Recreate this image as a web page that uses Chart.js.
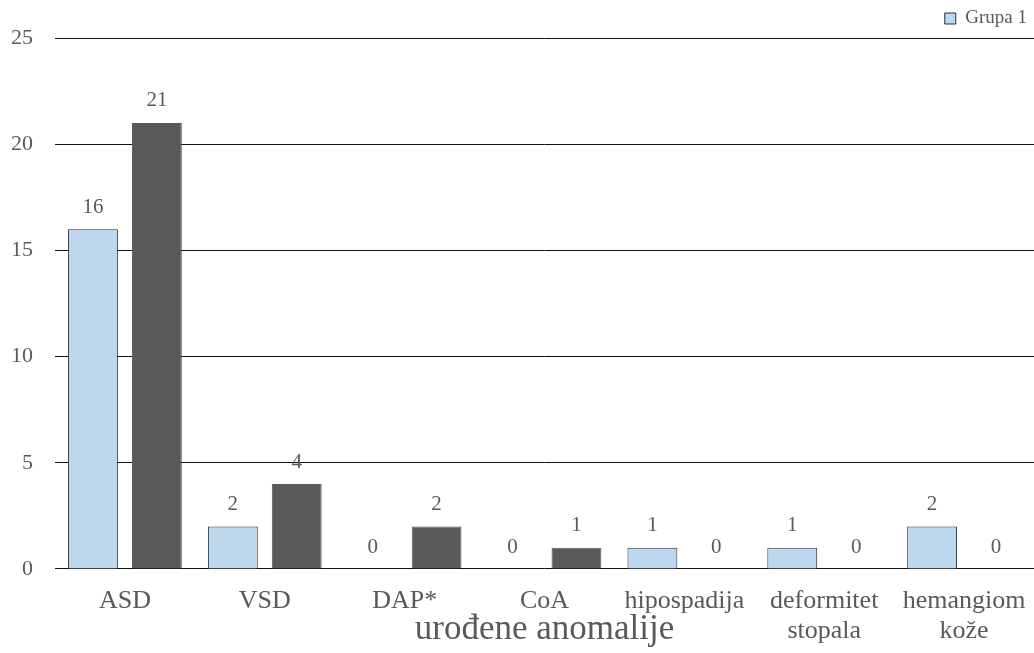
<!DOCTYPE html>
<html>
<head>
<meta charset="utf-8">
<script src="https://cdn.jsdelivr.net/npm/chart.js@4"></script>
<style>
  html, body { margin: 0; padding: 0; background: #fff; }
  #wrap { width: 1034px; height: 653px; }
</style>
</head>
<body>
<div id="wrap"><canvas id="chart"></canvas></div>
<script>
// categories on the x axis
const categories = ['ASD', 'VSD', 'DAP*', 'CoA', 'hipospadija', ['deformitet', 'stopala'], ['hemangiom', 'kože']];
// values per group
const grupa1 = [16, 2, 0, 0, 1, 1, 2];
const grupa2 = [21, 4, 2, 1, 0, 0, 0];
const seriesNames = ['Grupa 1', 'Grupa 2'];
// y axis ticks
const yMax = 25;
const yStep = 5;

const FONT = "'Liberation Serif', 'Times New Roman', serif";
const TEXT = '#595959';

// draws the value above each bar
const valueLabels = {
  id: 'valueLabels',
  afterDatasetsDraw(chart) {
    const ctx = chart.ctx;
    ctx.save();
    ctx.font = '21px ' + FONT;
    ctx.fillStyle = TEXT;
    ctx.textAlign = 'center';
    ctx.textBaseline = 'middle';
    chart.data.datasets.forEach((ds, i) => {
      chart.getDatasetMeta(i).data.forEach((bar, j) => {
        ctx.fillText(String(ds.data[j]), bar.x, bar.y - 22);
      });
    });
    ctx.restore();
  }
};

new Chart(document.getElementById('chart'), {
  type: 'bar',
  data: {
    labels: categories,
    datasets: [{
      label: seriesNames[0],
      data: grupa1,
      backgroundColor: '#BDD7EE',
      borderColor: '#2e2e2e',
      borderWidth: 1,
      categoryPercentage: 0.914,
      barPercentage: 0.78
    }, {
      label: seriesNames[1],
      data: grupa2,
      backgroundColor: '#595959',
      borderColor: '#595959',
      borderWidth: 1,
      categoryPercentage: 0.914,
      barPercentage: 0.78
    }]
  },
  options: {
    responsive: true,
    maintainAspectRatio: false,
    animation: false,
    layout: { padding: { left: 11, right: 0, top: 2, bottom: 0 } },
    plugins: {
      legend: {
        display: true,
        position: 'top',
        align: 'end',
        labels: {
          filter: item => item.datasetIndex === 0,
          font: { family: FONT, size: 19 },
          color: TEXT,
          boxWidth: 11,
          boxHeight: 11,
          padding: 7
        }
      },
      tooltip: { enabled: false }
    },
    scales: {
      x: {
        grid: { display: true, color: 'rgba(0,0,0,0)', drawTicks: true, tickLength: 15 },
        border: { display: false },
        ticks: {
          color: TEXT,
          font: { family: FONT, size: 26, lineHeight: 1.154 },
          padding: 2,
          maxRotation: 0,
          autoSkip: false
        },
        title: {
          display: true,
          text: 'urođene anomalije',
          color: TEXT,
          font: { family: FONT, size: 35, lineHeight: 1.1 },
          padding: { top: -37.5, bottom: 4 }
        }
      },
      y: {
        min: 0,
        max: yMax,
        grid: { color: '#111', lineWidth: 1, drawTicks: true, tickLength: 22, tickColor: 'rgba(0,0,0,0)' },
        border: { display: false },
        ticks: {
          stepSize: yStep,
          color: TEXT,
          font: { family: FONT, size: 22 },
          padding: 0
        }
      }
    }
  },
  plugins: [valueLabels]
});
</script>
</body>
</html>
